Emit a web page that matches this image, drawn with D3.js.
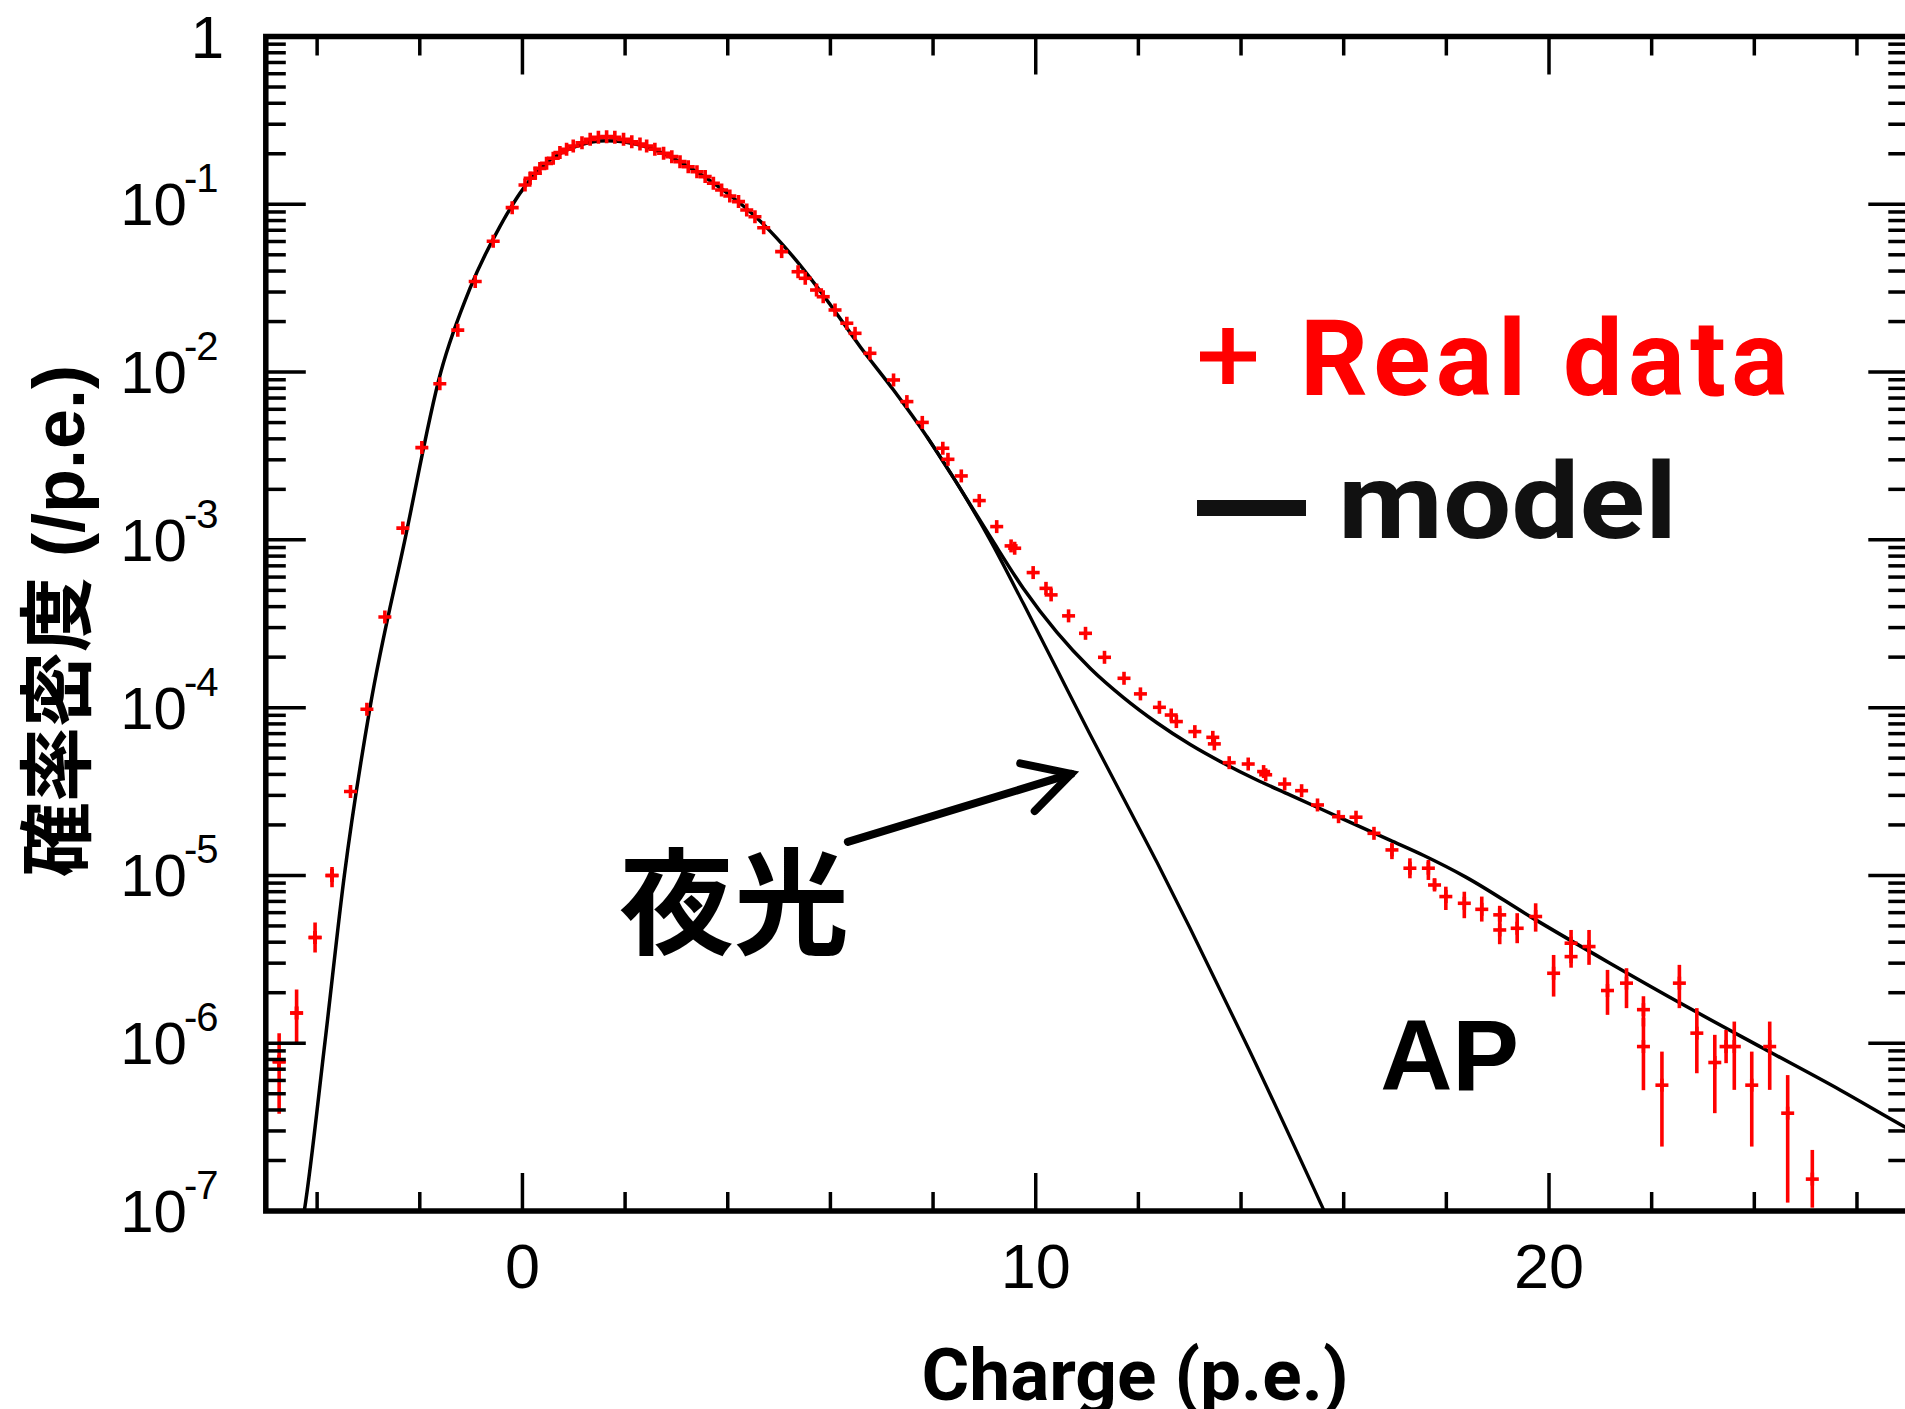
<!DOCTYPE html>
<html>
<head>
<meta charset="utf-8">
<script src="https://cdn.jsdelivr.net/npm/d3@7"></script>
<style>
    body { margin: 0; background: #fff; }
    svg { display: block; }
</style>
</head>
<body>
<div id="chart"></div>
<script>
// ---- data ----
// bin centres (p.e.) and log10 of the probability density
const chargePE = [
    -4.74, -4.40, -4.04, -3.71, -3.35, -3.03, -2.68, -2.33, -1.96, -1.61, -1.26, -0.92, -0.57, -0.20,
    0.05, 0.15, 0.25, 0.34, 0.47, 0.60, 0.73, 0.86, 0.99, 1.16, 1.32, 1.48, 1.64, 1.80, 1.97, 2.13,
    2.29, 2.42, 2.58, 2.75, 2.91, 3.07, 3.23, 3.40, 3.56, 3.72, 3.88, 4.04, 4.21, 4.37, 4.53, 4.70,
    5.05, 5.37, 5.51, 5.73, 5.86, 6.09, 6.32, 6.48, 6.77, 7.23, 7.49, 7.79, 8.19, 8.29, 8.55, 8.90,
    9.24, 9.52, 9.59, 9.95, 10.20, 10.30, 10.64, 10.97, 11.34, 11.72, 12.04, 12.41, 12.64, 12.74,
    13.10, 13.45, 13.48, 13.77, 14.14, 14.44, 14.48, 14.85, 15.18, 15.49, 15.90, 16.24, 16.59
];
const logDensity = [
    -6.11, -5.82, -5.37, -5.00, -4.50, -4.01, -3.46, -2.93, -2.45, -2.07, -1.75, -1.46, -1.22, -1.02,
    -0.885, -0.845, -0.815, -0.786, -0.756, -0.726, -0.692, -0.672, -0.653, -0.633, -0.613, -0.601, -0.597, -0.601, -0.613, -0.627,
    -0.641, -0.653, -0.672, -0.696, -0.716, -0.746, -0.776, -0.806, -0.835, -0.875, -0.915, -0.951, -0.984, -1.034, -1.074, -1.14,
    -1.282, -1.402, -1.441, -1.511, -1.551, -1.630, -1.709, -1.769, -1.888, -2.047, -2.176, -2.300, -2.454, -2.520, -2.619, -2.766,
    -2.921, -3.036, -3.050, -3.195, -3.289, -3.328, -3.453, -3.557, -3.700, -3.825, -3.918, -3.998, -4.044, -4.083,
    -4.143, -4.177, -4.216, -4.328, -4.336, -4.381, -4.400, -4.455, -4.495, -4.580, -4.650, -4.653, -4.749
];

// points whose error bars are longer than the marker: centre, log10 value, log10 lower / upper end
const errX = [
    -4.74, -4.40, -4.04, -3.71,
    16.94, 17.29, 17.65, 17.77, 17.99, 18.35, 18.69, 19.04, 19.04, 19.38, 19.74, 20.09, 20.43, 20.43,
    20.78, 21.14, 21.51, 21.84, 21.84, 22.20, 22.54, 22.88, 23.23, 23.45, 23.61, 23.95, 24.30, 24.65, 25.13
];
const errLog = [
    -6.11, -5.82, -5.37, -5.00,
    -4.848, -4.957, -4.957, -5.057, -5.126, -5.166, -5.202, -5.235, -5.325, -5.315, -5.245, -5.583, -5.404, -5.484,
    -5.424, -5.686, -5.642, -5.80, -6.02, -6.25, -5.642, -5.940, -6.115, -6.020, -6.020, -6.25, -6.020, -6.417, -6.81
];
const errLogLow = [
    -6.42, -6.01, -5.46, -5.07,
    -4.903, -5.017, -5.027, -5.087, -5.206, -5.255, -5.275, -5.28, -5.41, -5.404, -5.335, -5.722, -5.46, -5.55,
    -5.533, -5.831, -5.791, -5.90, -6.28, -6.616, -5.791, -6.179, -6.417, -6.119, -6.278, -6.616, -6.278, -6.95, -6.98
];
const errLogHigh = [
    -5.94, -5.68, -5.28, -4.95,
    -4.808, -4.898, -4.908, -5.017, -5.067, -5.097, -5.126, -5.181, -5.231, -5.225, -5.166, -5.474, -5.325, -5.40,
    -5.325, -5.563, -5.553, -5.72, -5.85, -6.05, -5.533, -5.791, -5.950, -5.921, -5.871, -6.05, -5.871, -6.19, -6.636
];

// model = night sky + after-pulse
const modelX = [
    -4.36, -4.25, -3.85, -3.47, -2.97, -2.29, -1.59, -1.02, -0.44, 0.02, 0.54, 1.06, 1.64, 2.29, 2.94,
    3.59, 4.24, 4.63, 5.28, 5.93, 6.58, 7.23, 7.88, 8.50, 9.11, 9.76, 10.41, 11.06, 11.71, 12.36, 13.01,
    13.65, 14.30, 14.95, 15.60, 16.25, 16.90, 17.55, 18.38, 19.66, 21.17, 22.67, 24.17, 25.68, 26.94, 27.3
];
const modelLog = [
    -7.2, -7.0, -6.0, -5.0, -4.0, -3.0, -2.0, -1.5, -1.133, -0.905, -0.736, -0.653, -0.621, -0.647, -0.726,
    -0.845, -0.994, -1.10, -1.315, -1.570, -1.849, -2.107, -2.385, -2.68, -2.98, -3.29, -3.55, -3.765, -3.94, -4.09, -4.22,
    -4.33, -4.43, -4.52, -4.61, -4.70, -4.79, -4.88, -5.01, -5.25, -5.52, -5.78, -6.03, -6.28, -6.50, -6.56
];
// night-sky component alone, where it leaves the total
const nightX = [7.88, 8.50, 9.11, 9.76, 10.41, 11.06, 11.71, 12.36, 13.00, 14.16, 15.59, 15.95];
const nightLog = [-2.385, -2.68, -3.00, -3.38, -3.77, -4.16, -4.54, -4.92, -5.31, -6.04, -6.98, -7.22];

const xTickLabels = [0, 10, 20];
const yTickExponents = [0, -1, -2, -3, -4, -5, -6, -7];

// ---- layout ----
const width = 1905;
const height = 1409;
const red = '#ff0000';

const x = d3.scaleLinear().domain([-5, 27]).range([265.8, 1908.3]);
const y = d3.scaleLog().domain([1e-7, 1]).range([1211, 36.5]);
const yl = v => y(Math.pow(10, v)); // from log10 value

const svg = d3.select('#chart').append('svg')
    .attr('width', width)
    .attr('height', height);

svg.append('rect').attr('width', width).attr('height', height).attr('fill', '#fff');

const x0 = x.range()[0], x1 = x.range()[1];
const yTop = y.range()[1], yBot = y.range()[0];

svg.append('defs').append('clipPath').attr('id', 'clip')
    .append('rect')
    .attr('x', x0).attr('y', yTop)
    .attr('width', x1 - x0).attr('height', yBot - yTop);

const plot = svg.append('g').attr('clip-path', 'url(#clip)');

// ---- model curves ----
const line = d3.line()
    .x(d => x(d[0]))
    .y(d => yl(d[1]))
    .curve(d3.curveMonotoneX);

plot.append('path')
    .datum(nightX.map((v, i) => [v, nightLog[i]]))
    .attr('d', line)
    .attr('fill', 'none')
    .attr('stroke', '#000')
    .attr('stroke-width', 3.3);

plot.append('path')
    .datum(modelX.map((v, i) => [v, modelLog[i]]))
    .attr('d', line)
    .attr('fill', 'none')
    .attr('stroke', '#000')
    .attr('stroke-width', 3.5);

// ---- data points ----
const mk = 6.5;
const pts = plot.append('g').attr('stroke', red).attr('stroke-width', 3.6);

pts.selectAll('.eb')
    .data(errX.map((v, i) => ({ x: v, lo: errLogLow[i], hi: errLogHigh[i], c: errLog[i] })))
    .enter()
    .append('line')
    .attr('class', 'eb')
    .attr('x1', d => x(d.x)).attr('x2', d => x(d.x))
    .attr('y1', d => yl(d.hi)).attr('y2', d => yl(d.lo));

const allPts = chargePE.map((v, i) => ({ x: v, c: logDensity[i] }))
    .concat(errX.map((v, i) => ({ x: v, c: errLog[i] })));

pts.selectAll('.mh')
    .data(allPts)
    .enter()
    .append('line')
    .attr('x1', d => x(d.x) - mk).attr('x2', d => x(d.x) + mk)
    .attr('y1', d => yl(d.c)).attr('y2', d => yl(d.c));

pts.selectAll('.mv')
    .data(allPts)
    .enter()
    .append('line')
    .attr('x1', d => x(d.x)).attr('x2', d => x(d.x))
    .attr('y1', d => yl(d.c) - mk).attr('y2', d => yl(d.c) + mk);

// ---- frame and ticks ----
const ticks = svg.append('g').attr('stroke', '#000').attr('stroke-width', 3.5);

let xMinor = d3.range(-4, 27, 2).filter(v => xTickLabels.indexOf(v) < 0);
let xAll = xTickLabels.map(v => ({ v: v, len: 38 })).concat(xMinor.map(v => ({ v: v, len: 19 })));

ticks.selectAll('.xb').data(xAll).enter().append('line')
    .attr('x1', d => x(d.v)).attr('x2', d => x(d.v))
    .attr('y1', yBot).attr('y2', d => yBot - d.len);
ticks.selectAll('.xt').data(xAll).enter().append('line')
    .attr('x1', d => x(d.v)).attr('x2', d => x(d.v))
    .attr('y1', yTop).attr('y2', d => yTop + d.len);

let yAll = [];
yTickExponents.forEach(e => {
    yAll.push({ v: Math.pow(10, e), len: 40 });
    if (e < 0) {
        for (let k = 2; k <= 9; k++) yAll.push({ v: k * Math.pow(10, e), len: 20 });
    }
});

ticks.selectAll('.yl').data(yAll).enter().append('line')
    .attr('x1', x0).attr('x2', d => x0 + d.len)
    .attr('y1', d => y(d.v)).attr('y2', d => y(d.v));
ticks.selectAll('.yr').data(yAll).enter().append('line')
    .attr('x1', x1).attr('x2', d => x1 - d.len)
    .attr('y1', d => y(d.v)).attr('y2', d => y(d.v));

svg.append('rect')
    .attr('x', x0).attr('y', yTop)
    .attr('width', x1 - x0).attr('height', yBot - yTop)
    .attr('fill', 'none')
    .attr('stroke', '#000')
    .attr('stroke-width', 5.5);

// ---- tick labels ----
const tickFont = '"Liberation Sans", Arial, sans-serif';

svg.selectAll('.xlab').data(xTickLabels).enter().append('text')
    .attr('x', d => x(d))
    .attr('y', 1288)
    .attr('text-anchor', 'middle')
    .style('font-family', tickFont)
    .style('font-size', '63px')
    .text(d => d);

let ylab = svg.selectAll('.ylab').data(yTickExponents).enter().append('g');

ylab.each(function(d) {
    let g = d3.select(this);
    let ty = yl(d) + 21;
    if (d === 0) {
        g.append('text')
            .attr('x', 224).attr('y', ty)
            .attr('text-anchor', 'end')
            .style('font-family', tickFont)
            .style('font-size', '60px')
            .text('1');
    } else {
        g.append('text')
            .attr('x', 187).attr('y', ty)
            .attr('text-anchor', 'end')
            .style('font-family', tickFont)
            .style('font-size', '60px')
            .text('10');
        g.append('text')
            .attr('x', 184).attr('y', ty - 33)
            .style('font-family', tickFont)
            .style('font-size', '40px')
            .style('letter-spacing', '-1px')
            .text('-' + Math.abs(d));
    }
});

// ---- axis titles ----
let yTitle = svg.append('text')
    .attr('transform', 'translate(84,621) rotate(-90)')
    .attr('text-anchor', 'middle')
    .style('font-family', '"Noto Sans CJK JP", sans-serif')
    .style('font-weight', 700)
    .style('font-size', '75px');
yTitle.append('tspan').text('確率密度');
yTitle.append('tspan')
    .style('font-family', tickFont)
    .style('font-size', '72px')
    .text(' (/p.e.)');

svg.append('text')
    .attr('x', 1135)
    .attr('y', 1400)
    .attr('text-anchor', 'middle')
    .style('font-family', 'Roboto, sans-serif')
    .style('font-weight', 700)
    .style('font-size', '73px')
    .text('Charge (p.e.)');

// ---- legend ----
let leg = svg.append('g');
leg.append('line')
    .attr('x1', 1200).attr('x2', 1256).attr('y1', 356.5).attr('y2', 356.5)
    .attr('stroke', red).attr('stroke-width', 10);
leg.append('line')
    .attr('x1', 1228).attr('x2', 1228).attr('y1', 328).attr('y2', 384)
    .attr('stroke', red).attr('stroke-width', 11.5);
leg.append('text')
    .attr('x', 1300).attr('y', 395)
    .attr('textLength', 488).attr('lengthAdjust', 'spacing')
    .style('font-family', 'Roboto, sans-serif')
    .style('font-weight', 700)
    .style('font-size', '106px')
    .attr('fill', red)
    .text('Real data');

leg.append('line')
    .attr('x1', 1197).attr('x2', 1306).attr('y1', 508).attr('y2', 508)
    .attr('stroke', '#111').attr('stroke-width', 16);
leg.append('text')
    .attr('x', 1338).attr('y', 538)
    .attr('textLength', 339).attr('lengthAdjust', 'spacingAndGlyphs')
    .style('font-family', 'Roboto, sans-serif')
    .style('font-weight', 700)
    .style('font-size', '106px')
    .attr('fill', '#111')
    .text('model');

// ---- annotations ----
const arrowFrom = [6.34, -4.80];
const arrowTo = [10.69, -4.395];
let ax = x(arrowTo[0]), ay = yl(arrowTo[1]);
let ang = Math.atan2(ay - yl(arrowFrom[1]), ax - x(arrowFrom[0]));
let headLen = 52, headAng = 0.5;
let ann = svg.append('g').attr('stroke', '#000').attr('stroke-width', 8)
    .attr('stroke-linecap', 'round').attr('fill', 'none');
ann.append('line')
    .attr('x1', x(arrowFrom[0])).attr('y1', yl(arrowFrom[1]))
    .attr('x2', ax).attr('y2', ay);
ann.append('path')
    .attr('stroke-linejoin', 'miter')
    .attr('d', 'M' + (ax - headLen * Math.cos(ang - headAng)) + ',' + (ay - headLen * Math.sin(ang - headAng)) +
        'L' + ax + ',' + ay +
        'L' + (ax - headLen * Math.cos(ang + headAng)) + ',' + (ay - headLen * Math.sin(ang + headAng)));

svg.append('text')
    .attr('x', x(1.88)).attr('y', yl(-5.414))
    .style('font-family', '"Noto Sans CJK JP", sans-serif')
    .style('font-weight', 700)
    .style('font-size', '115px')
    .text('夜光');

svg.append('text')
    .attr('x', x(16.71)).attr('y', yl(-6.278))
    .style('font-family', tickFont)
    .style('font-weight', 700)
    .style('font-size', '100px')
    .text('AP');
</script>
</body>
</html>
